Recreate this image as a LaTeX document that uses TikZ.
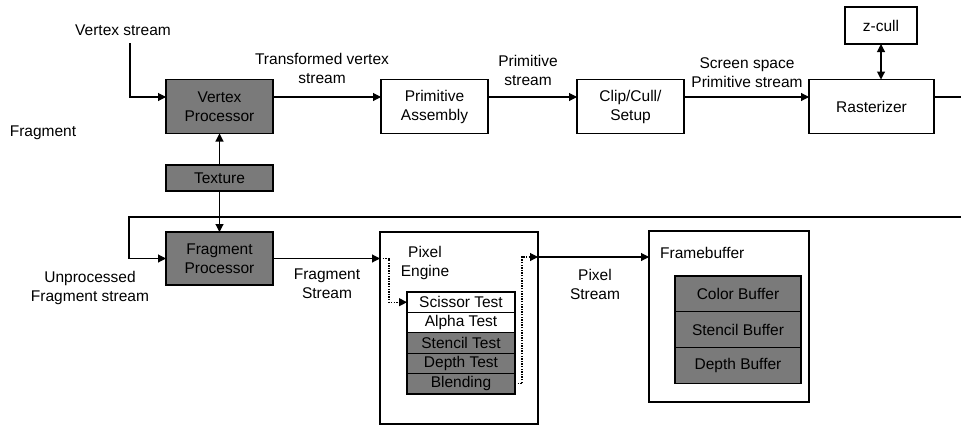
\documentclass[tikz,border=0pt]{standalone}
\usepackage{fontspec}
\setmainfont{Liberation Sans}
\usetikzlibrary{arrows.meta}
\definecolor{procgray}{RGB}{122,122,122}
\tikzset{
  txt/.style={font=\fontsize{15.5}{19}\selectfont},
  box/.style={txt, draw, line width=1.1pt, inner sep=0pt, outer sep=0pt, align=center},
  procbox/.style={box, fill=procgray},
  lbl/.style={txt, align=center, inner sep=0pt},
  tip/.tip={Triangle[length=8pt,width=8pt]},
  wire/.style={line width=1.1pt},
  flow/.style={wire, -tip},
  dotflow/.style={line width=1.1pt, dash pattern=on 1.4pt off 1.2pt, -tip}
}
\begin{document}
\begin{tikzpicture}[x=1pt,y=-1pt]
\useasboundingbox (0,0) rectangle (961,426);

% rows on which the connectors run
\coordinate (row1) at (0,97);
\coordinate (pxrow) at (0,257);

% geometry stage
\node[procbox, minimum width=107pt, minimum height=54pt] (vp) at (219.5,106.5) {Vertex\\Processor};
\node[box, minimum width=107pt, minimum height=54pt] (pa) at (434.5,106.5) {Primitive\\Assembly};
\node[box, minimum width=107pt, minimum height=54pt] (clip) at (630.5,106.5) {Clip/Cull/\\Setup};
\node[box, minimum width=125pt, minimum height=54pt] (rast) at (871.5,106.5) {Rasterizer};
\node[box, minimum width=72pt, minimum height=37pt] (zc) at (881,25.5) {z-cull};
\node[procbox, minimum width=107pt, minimum height=26pt] (tex) at (219.5,178) {Texture};

% fragment stage
\node[procbox, minimum width=107pt, minimum height=53pt] (fp) at (219.5,258.5) {Fragment\\Processor};
\node[box, minimum width=158pt, minimum height=192pt] (pe) at (459,328) {};
\node[box, minimum width=160pt, minimum height=171pt] (fb) at (729,316.5) {};

% pixel engine tests
\node[box, minimum width=108pt, minimum height=20.4pt] (sc) at (461,302.2) {Scissor Test};
\node[box, minimum width=108pt, minimum height=20.4pt] (al) at (461,322.6) {Alpha Test};
\node[procbox, minimum width=108pt, minimum height=20.4pt] (st) at (461,343) {Stencil Test};
\node[procbox, minimum width=108pt, minimum height=20.4pt] (dt) at (461,363.4) {Depth Test};
\node[procbox, minimum width=108pt, minimum height=20.4pt] (bl) at (461,383.8) {Blending};

% framebuffer contents
\node[procbox, minimum width=126pt, minimum height=35.7pt] (cb) at (738,293.8) {Color Buffer};
\node[procbox, minimum width=126pt, minimum height=35.7pt] (sb) at (738,329.5) {Stencil Buffer};
\node[procbox, minimum width=126pt, minimum height=35.7pt] (db) at (738,365.2) {Depth Buffer};

% labels
\node[lbl] (lvs) at (123,30) {Vertex stream};
\node[lbl] (lfrag) at (43,133) {Fragment};
\node[lbl] (ltv) at (322,68) {Transformed vertex\\stream};
\node[lbl] (lps) at (528,70) {Primitive\\stream};
\node[lbl] (lss) at (747,73) {Screen space\\Primitive stream};
\node[lbl] (lufs) at (90,288) {Unprocessed\\Fragment stream};
\node[lbl] (lfs) at (327,284) {Fragment\\Stream};
\node[lbl] (lpe) at (425,263) {Pixel\\Engine};
\node[lbl] (lpx) at (595,284) {Pixel\\Stream};
\node[lbl, anchor=west] (lfb) at (660,253) {Framebuffer};

% free ends of connectors
\coordinate (vsin) at (130,43);
\coordinate (loopR) at (961,217);
\coordinate (loopL) at (129,217);
\coordinate (rastout) at (961,97);

% geometry connectors
\draw[flow] (vsin) |- (vp.west |- row1);
\draw[flow] (vp.east |- row1) -- (pa.west |- row1);
\draw[flow] (pa.east |- row1) -- (clip.west |- row1);
\draw[flow] (clip.east |- row1) -- (rast.west |- row1);
\draw[wire] (rast.east |- row1) -- (rastout);
\draw[wire, tip-tip] (zc.south) -- (zc.south |- rast.north);
\draw[flow] (tex.north) -- (vp.south);
\draw[flow] (tex.south) -- (fp.north);

% fragment connectors
\draw[flow] (loopR) -- (loopL) |- (fp.west);
\draw[flow] (fp.east) -- (pe.west |- fp.east);
\draw[dotflow] (pe.west |- fp.east) -- ++(9,0) |- (sc.west);
\draw[dotflow] (bl.east) -- ++(7,0) |- (pe.east |- pxrow);
\draw[flow] (pe.east |- pxrow) -- (fb.west |- pxrow);
\end{tikzpicture}
\end{document}
